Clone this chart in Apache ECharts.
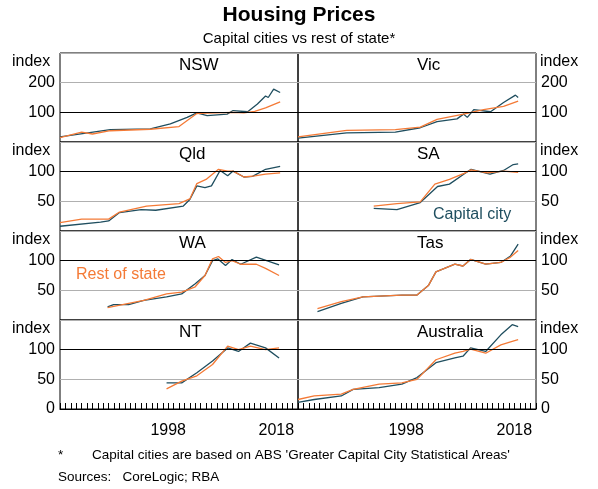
<!DOCTYPE html>
<html>
<head>
  <meta charset="utf-8">
  <title>Housing Prices</title>
  <script src="https://cdn.jsdelivr.net/npm/echarts@6/dist/echarts.min.js"></script>
</head>
<body style="margin:0">
  <div id="container" style="height: 489px; width: 598px"></div>
  <script>
    // panels: [year, index]
    var panels = ['NSW', 'Vic', 'Qld', 'SA', 'WA', 'Tas', 'NT', 'Australia'];
    var nswCap = [[1978,17],[1987.3,42],[1994.7,44],[1998.4,61],[2001.5,83],[2003.3,98],[2005.2,89],[2008.9,94],[2010,106],[2012.7,102],[2014.5,128],[2016,155],[2016.5,150],[2017.5,178],[2018.7,167]];
    var nswRest = [[1978,15],[1982,33],[1984,27],[1987.3,38],[1994.7,43],[2000,52],[2003.3,96],[2005,97],[2010,100],[2012,98],[2014,103],[2016,115],[2018.7,135]];
    var vicCap = [[1978,13],[1987,31],[1996,33],[2000.6,48],[2003.7,69],[2007.4,78],[2008.6,94],[2009.3,83],[2010.5,109],[2013.6,102],[2016,133],[2018.2,158],[2018.7,150]];
    var vicRest = [[1978,17],[1987,39],[1996,42],[2000.6,50],[2003.7,76],[2008.6,94],[2012.3,109],[2016,120],[2018.7,138]];
    var qldCap = [[1978,8],[1985.5,15],[1987,17],[1989,31],[1993,36],[1995.7,35],[2000.8,42],[2002,53],[2003.3,76],[2004.8,73],[2006,76],[2007.6,102],[2009,93],[2010,101],[2012,91],[2013.6,92],[2016,104],[2018.7,109]];
    var qldRest = [[1978,14],[1982,20],[1987,20],[1989,32],[1994,42],[2000,46],[2002,54],[2003.3,80],[2005,87],[2007.3,104],[2009,101],[2010,101],[2012,91],[2014,93],[2016,96],[2018.7,98]];
    var saCap = [[1992,38],[1996.3,36],[2000.6,48],[2003.8,75],[2006,79],[2008.7,96],[2010,104],[2013.5,96],[2016,102],[2017.8,112],[2018.7,113]];
    var saRest = [[1992,42],[1996.3,46],[2000.6,49],[2003.3,79],[2006,87],[2008.7,97],[2010,103],[2013,98],[2016,101],[2018.7,99]];
    var waCap = [[1986.8,22],[1987.9,26],[1990.7,26],[1993.5,33],[1997.7,39],[2000.5,44],[2003,61],[2004.8,75],[2006.2,100],[2007.2,103],[2008.6,92],[2009.8,102],[2011.4,94],[2014.3,106],[2018.5,93]];
    var waRest = [[1986.8,21],[1990.7,28],[1993.5,33],[1997.7,44],[2000.5,47],[2003,56],[2004.8,75],[2006.2,103],[2007.3,107],[2008.6,97],[2009.8,100],[2011.4,94],[2014.3,94],[2016,87],[2018.5,75]];
    var tasCap = [[1981.6,14],[1986,28],[1990,39],[1997.2,42],[2000,42],[2002.1,58],[2003.5,81],[2007,94],[2008.5,91],[2009.9,102],[2012.7,94],[2015.5,97],[2017.3,108],[2018.7,128]];
    var tasRest = [[1981.6,19],[1986,31],[1990,39],[1997.2,42],[2000,42],[2002.1,58],[2003.5,81],[2007,94],[2008.5,91],[2009.9,102],[2012.7,94],[2015.5,97],[2017.3,106],[2018.7,117]];
    var ntCap = [[1997.7,44],[2000.5,44],[2003.3,61],[2006.2,81],[2009,103],[2011,97],[2013.2,111],[2016,103],[2018.5,86]];
    var ntRest = [[1997.7,34],[2000.5,47],[2003.3,56],[2006.2,75],[2009,106],[2011,100],[2013.2,106],[2016,100],[2018.5,103]];
    var ausCap = [[1978,11],[1981,16],[1986,22],[1988.2,33],[1993,36],[1997.2,42],[2000,53],[2003.5,78],[2007,86],[2008.5,89],[2009.9,103],[2012.7,97],[2015.5,125],[2017.6,142],[2018.7,139]];
    var ausRest = [[1978,16],[1981,22],[1986,25],[1988.2,33],[1993,42],[1997.2,44],[2000,50],[2003.5,83],[2007,94],[2008.5,97],[2009.9,101],[2012.7,94],[2015.5,108],[2017.6,114],[2018.7,117]];
    var capital = [nswCap, vicCap, qldCap, saCap, waCap, tasCap, ntCap, ausCap];
    var rest = [nswRest, vicRest, qldRest, saRest, waRest, tasRest, ntRest, ausRest];
    var yearLabels = [1998, 2018];

    var capColor = '#1f4e5f', restColor = '#f47a36';
    var font = 'Liberation Sans, Arial, sans-serif';
    var rowTop = [53, 142, 231, 320], rowH = 89;
    var grids = [], xAxes = [], yAxes = [], series = [], graphics = [];

    panels.forEach(function (name, i) {
      var row = Math.floor(i / 2), col = i % 2;
      var bottomRow = row === 3, big = row === 0;
      grids.push({ left: col ? 298 : 60, width: 238, top: rowTop[row], height: rowH,
        show: true, borderColor: '#000', borderWidth: 1, backgroundColor: 'transparent' });
      xAxes.push({ type: 'value', gridIndex: i, min: 1978, max: 2022, interval: 1,
        axisLine: { show: bottomRow, lineStyle: { color: '#000' } }, splitLine: { show: false },
        axisTick: { show: bottomRow, inside: true, length: 6, lineStyle: { color: '#000' } },
        axisLabel: { show: bottomRow, margin: 14, color: '#000', fontSize: 16, fontFamily: font,
          formatter: function (v) { return yearLabels.indexOf(v) >= 0 ? String(v) : ''; } } });
      yAxes.push({ type: 'value', gridIndex: i, min: 0, max: big ? 300 : 150, interval: big ? 100 : 50,
        position: col ? 'right' : 'left',
        axisLine: { show: false }, axisTick: { show: false },
        splitLine: { lineStyle: { color: '#b0b0b0' } },
        axisLabel: { color: '#000', fontSize: 16, fontFamily: font, margin: 5,
          formatter: function (v) {
            if (v === 0) return bottomRow ? '0' : '';
            if (v === (big ? 300 : 150)) return '';
            return String(v);
          } } });
      series.push({ type: 'line', xAxisIndex: i, yAxisIndex: i, data: rest[i], showSymbol: false,
        lineStyle: { color: restColor, width: 1.3 }, z: 3 });
      series.push({ type: 'line', xAxisIndex: i, yAxisIndex: i, data: capital[i], showSymbol: false,
        lineStyle: { color: capColor, width: 1.3 }, z: 2,
        markLine: { silent: true, symbol: 'none', label: { show: false },
          lineStyle: { color: '#000', type: 'solid', width: 1 }, data: [{ yAxis: 100 }] } });
      graphics.push({ type: 'text', left: (col ? 298 : 60) + 119, top: rowTop[row] + 4,
        style: { text: name, font: '17px ' + font, fill: '#000', textAlign: 'center' } });
      graphics.push({ type: 'text', left: col ? 540 : 12, top: rowTop[row] + 1,
        style: { text: 'index', font: '16px ' + font, fill: '#000' } });
    });

    graphics.push(
      { type: 'text', left: 433, top: 207, style: { text: 'Capital city', font: '16px ' + font, fill: capColor } },
      { type: 'text', left: 76, top: 267, style: { text: 'Rest of state', font: '16px ' + font, fill: restColor } },
      { type: 'text', left: 58, top: 448, style: { text: '*', font: '13.5px ' + font, fill: '#000' } },
      { type: 'text', left: 92, top: 448, style: { text: "Capital cities are based on ABS 'Greater Capital City Statistical Areas'", font: '13.5px ' + font, fill: '#000' } },
      { type: 'text', left: 58, top: 470, style: { text: 'Sources:   CoreLogic; RBA', font: '13.5px ' + font, fill: '#000' } }
    );

    var myChart = echarts.init(document.getElementById('container'));
    myChart.setOption({
      backgroundColor: '#fff',
      animation: false,
      title: { text: 'Housing Prices', subtext: 'Capital cities vs rest of state*', left: 'center', top: 0,
        itemGap: 5,
        textStyle: { fontSize: 21, fontWeight: 'bold', color: '#000', fontFamily: font },
        subtextStyle: { fontSize: 15, color: '#000', fontFamily: font } },
      grid: grids, xAxis: xAxes, yAxis: yAxes, series: series, graphic: graphics
    });
  </script>
</body>
</html>
